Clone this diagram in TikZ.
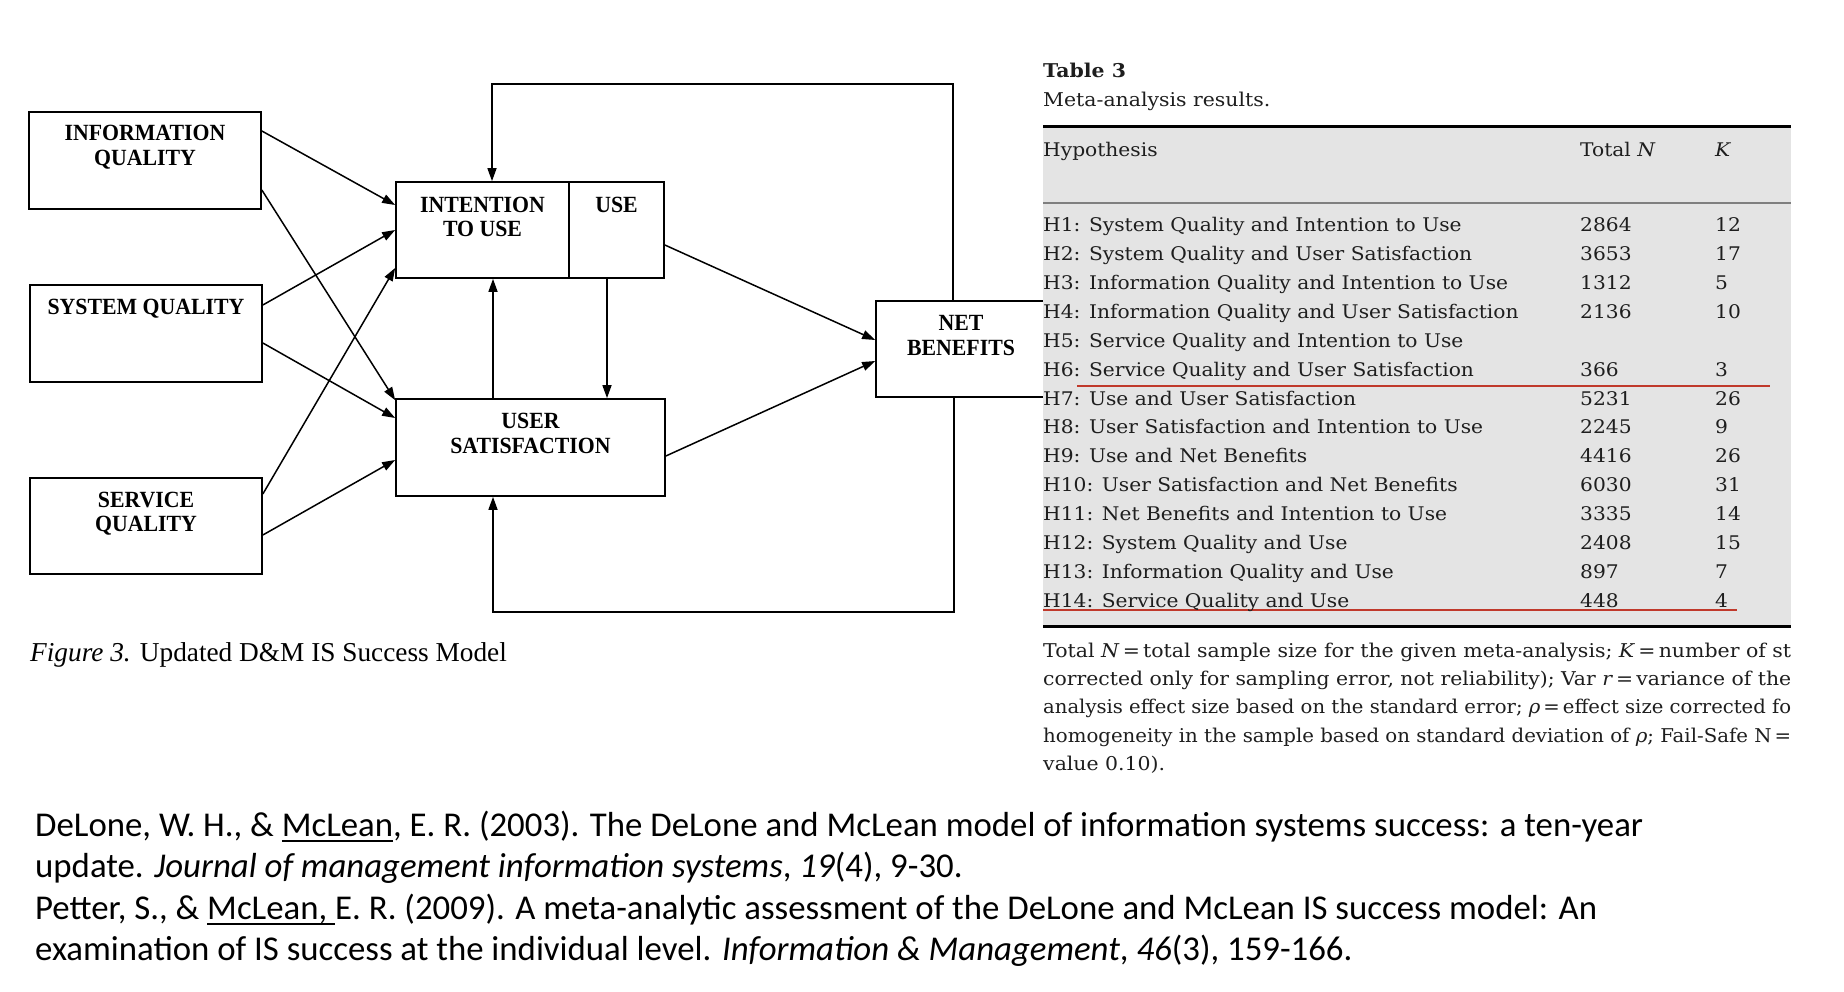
\documentclass[tikz,border=0pt]{standalone}
\usepackage{fontspec}
\usepackage{graphicx}
\setmainfont{Liberation Serif}
\newfontfamily\boxfont[FakeStretch=0.94]{Liberation Serif}
\newfontfamily\tabfont[FakeStretch=1.075]{DejaVu Serif}
\newfontfamily\citefont{Carlito}
\newcommand{\myul}[1]{\setbox0\hbox{#1}\rlap{\rule[-6pt]{\wd0}{1.8pt}}\box0}
\newcommand{\fitline}[1]{\resizebox{748pt}{\height}{#1}}
\usetikzlibrary{arrows.meta}
\definecolor{tabgray}{HTML}{E4E4E4}
\definecolor{tabred}{HTML}{C0392B}
\definecolor{rulegray}{HTML}{7F7F7F}
\definecolor{tabtext}{HTML}{1E1E1E}
\tikzset{
  box/.style={draw, line width=1.7pt, inner sep=0pt},
  btxt/.style={font=\boxfont\bfseries\fontsize{23.2}{24.5}\selectfont, align=center, inner sep=0pt, anchor=base},
  arr/.style={line width=1.5pt, -{Triangle[length=13pt,width=9pt]}},
  ttxt/.style={font=\tabfont\fontsize{18.8}{23}\selectfont, text=tabtext, inner sep=0pt, anchor=base west},
  ntxt/.style={font=\tabfont\fontsize{19}{23}\selectfont, text=tabtext, inner sep=0pt, anchor=base west},
  ctxt/.style={font=\citefont\fontsize{34.8}{40}\selectfont, inner sep=0pt, anchor=base west},
}
\begin{document}
\begin{tikzpicture}[x=1pt,y=-1pt]
\fill[white] (0,0) rectangle (1844,992);
\path[use as bounding box] (0,0) rectangle (1844,992);

% ---------- diagram boxes ----------
\node[box, minimum width=232pt, minimum height=97pt] (iq) at (145,160.5) {};
\node[box, minimum width=232pt, minimum height=97pt] (sq) at (146,333.5) {};
\node[box, minimum width=232pt, minimum height=96pt] (svq) at (146,526) {};
\node[box, minimum width=173pt, minimum height=96pt] (itu) at (482.5,230) {};
\node[box, minimum width=95pt, minimum height=96pt] (use) at (616.5,230) {};
\node[box, minimum width=269pt, minimum height=97pt] (us) at (530.5,447.5) {};
\node[box, minimum width=171pt, minimum height=96pt] (nb) at (961.5,349) {};

% (base anchor of a two-line node = baseline of its last line)
\node[btxt] (iqt) at (145,165.2) {INFORMATION\\QUALITY};
\node[btxt] (sqt) at (146,314.3) {SYSTEM QUALITY};
\node[btxt] (svqt) at (146,531.7) {SERVICE\\QUALITY};
\node[btxt] (itut) at (482.5,236.7) {INTENTION\\TO USE};
\node[btxt] (uset) at (616.5,212.7) {USE};
\node[btxt] (ust) at (530.5,453.3) {USER\\SATISFACTION};
\node[btxt] (nbt) at (961,355) {NET\\BENEFITS};

% ---------- connectors ----------
\draw[arr] ([yshift=29.5pt]iq.east) -- ([yshift=25pt]itu.west);
\draw[arr] ([yshift=28.5pt]sq.east) -- (itu.west);
\draw[arr] ([yshift=32pt]svq.east) -- ([yshift=-38pt]itu.west);
\draw[arr] ([yshift=-29.5pt]iq.east) -- ([yshift=-2pt]us.north west);
\draw[arr] ([yshift=-9.5pt]sq.east) -- ([yshift=29.5pt]us.west);
\draw[arr] ([yshift=-9pt]svq.east) -- ([yshift=-12.5pt]us.west);
\draw[arr] ([yshift=-15pt]use.east) -- ([yshift=9pt]nb.west);
\draw[arr] ([yshift=-8.5pt]us.east) -- ([yshift=-12pt]nb.west);
\draw[arr] ([xshift=-37.5pt]us.north) -- ([xshift=10.5pt]itu.south);
\draw[arr] ([xshift=-9.5pt]use.south) -- ([xshift=76.5pt]us.north);
\draw[arr] ([xshift=-8.5pt]nb.north) -- ++(0,-216) -| ([xshift=9.5pt]itu.north);
\draw[arr] ([xshift=-7.5pt]nb.south) -- ++(0,214) -| ([xshift=-37.5pt]us.south);

\node[inner sep=0pt, anchor=base west, font=\fontsize{27.3}{30}\selectfont] (cap) at (30,661) {\textit{Figure 3.} Updated D\&M IS Success Model};

% ---------- table ----------
\fill[tabgray] (1043,127) rectangle (1791,626);
\draw[line width=3pt] (1043,127) -- (1791,127);
\draw[line width=3pt] (1043,626) -- (1791,626);
\draw[rulegray, line width=1.5pt] (1043,203) -- (1791,203);
\draw[tabred, line width=2pt] (1077,386) -- (1770,386);
\draw[tabred, line width=2pt] (1043,610) -- (1737,610);

\node[ntxt, font=\tabfont\bfseries\fontsize{19}{23}\selectfont] (tt) at (1043,78) {Table 3};
\node[ntxt] (tsub) at (1043,107) {Meta-analysis results.};
\node[ttxt] (hh) at (1043,157) {Hypothesis};
\node[ttxt] (hn) at (1580,157) {Total \textit{N}};
\node[ttxt] (hk) at (1715,157) {\textit{K}};

\foreach \hyp/\nn/\kk [count=\i from 0] in {
  H1: System Quality and Intention to Use/2864/12,
  H2: System Quality and User Satisfaction/3653/17,
  H3: Information Quality and Intention to Use/1312/5,
  H4: Information Quality and User Satisfaction/2136/10,
  H5: Service Quality and Intention to Use//,
  H6: Service Quality and User Satisfaction/366/3,
  H7: Use and User Satisfaction/5231/26,
  H8: User Satisfaction and Intention to Use/2245/9,
  H9: Use and Net Benefits/4416/26,
  H10: User Satisfaction and Net Benefits/6030/31,
  H11: Net Benefits and Intention to Use/3335/14,
  H12: System Quality and Use/2408/15,
  H13: Information Quality and Use/897/7,
  H14: Service Quality and Use/448/4}{
  \node[ttxt] (hyp\i) at (1043,232+28.85*\i) {\hyp};
  \node[ttxt] (tn\i) at (1580,232+28.85*\i) {\nn};
  \node[ttxt] (tk\i) at (1715,232+28.85*\i) {\kk};
}

% footnote (the reference cuts these lines at the table's right edge)
\node[ntxt] (f1) at (1043,657) {\fitline{Total \textit{N}\,=\,total sample size for the given meta-analysis; \textit{K}\,=\,number of st}};
\node[ntxt] (f2) at (1043,685) {\fitline{corrected only for sampling error, not reliability); Var \textit{r}\,=\,variance of the}};
\node[ntxt] (f3) at (1043,713) {\fitline{analysis effect size based on the standard error; \textit{ρ}\,=\,effect size corrected fo}};
\node[ntxt] (f4) at (1043,742) {\fitline{homogeneity in the sample based on standard deviation of \textit{ρ}; Fail-Safe N\,=}};
\node[ntxt] (f5) at (1043,770) {value 0.10).};

% ---------- citations ----------
\node[ctxt] (c1) at (35,836) {DeLone, W. H., \& \myul{McLean}, E. R. (2003). The DeLone and McLean model of information systems success: a ten-year};
\node[ctxt] (c2) at (35,877) {update. \textit{Journal of management information systems}, \textit{19}(4), 9-30.};
\node[ctxt] (c3) at (35,919) {Petter, S., \& \myul{McLean,\ }E. R. (2009). A meta-analytic assessment of the DeLone and McLean IS success model: An};
\node[ctxt] (c4) at (35,960) {examination of IS success at the individual level. \textit{Information \& Management}, \textit{46}(3), 159-166.};
\end{tikzpicture}
\end{document}
